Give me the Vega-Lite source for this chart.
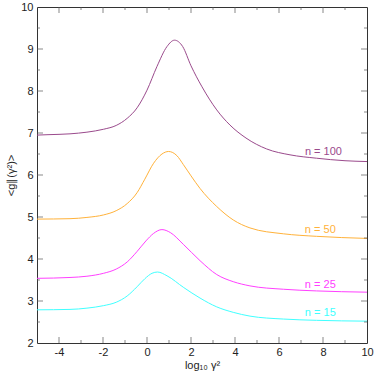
{
  "$schema": "https://vega.github.io/schema/vega-lite/v6.json",
  "width": 330,
  "height": 336,
  "autosize": "none",
  "padding": {"left": 37, "top": 7, "right": 7, "bottom": 31},
  "background": "white",
  "config": {
    "view": {"stroke": "#333333", "strokeWidth": 1},
    "font": "Liberation Sans",
    "axis": {
      "grid": false,
      "domain": false,
      "ticks": false,
      "labelColor": "#222",
      "labelFontSize": 11,
      "labelFont": "Liberation Sans",
      "titleFont": "Liberation Sans",
      "titleFontWeight": "normal",
      "titleFontSize": 11,
      "titleColor": "#222"
    }
  },
  "datasets": {
    "curves": [
      {"n": "n = 100", "x": -5, "y": 6.95}, {"n": "n = 100", "x": -4.5, "y": 6.96}, {"n": "n = 100", "x": -3.5, "y": 6.98}, {"n": "n = 100", "x": -2.73, "y": 7.02}, {"n": "n = 100", "x": -1.97, "y": 7.09}, {"n": "n = 100", "x": -1.4, "y": 7.18}, {"n": "n = 100", "x": -0.9, "y": 7.35}, {"n": "n = 100", "x": -0.45, "y": 7.6}, {"n": "n = 100", "x": 0, "y": 8.02}, {"n": "n = 100", "x": 0.45, "y": 8.58}, {"n": "n = 100", "x": 0.91, "y": 9.06}, {"n": "n = 100", "x": 1.25, "y": 9.21}, {"n": "n = 100", "x": 1.62, "y": 9.06}, {"n": "n = 100", "x": 2.0, "y": 8.6}, {"n": "n = 100", "x": 2.5, "y": 8.1}, {"n": "n = 100", "x": 3.17, "y": 7.55}, {"n": "n = 100", "x": 3.77, "y": 7.19}, {"n": "n = 100", "x": 4.5, "y": 6.88}, {"n": "n = 100", "x": 5.44, "y": 6.62}, {"n": "n = 100", "x": 6.5, "y": 6.48}, {"n": "n = 100", "x": 7.7, "y": 6.4}, {"n": "n = 100", "x": 9, "y": 6.34}, {"n": "n = 100", "x": 10, "y": 6.32},
      {"n": "n = 50", "x": -5, "y": 4.95}, {"n": "n = 50", "x": -3.5, "y": 4.96}, {"n": "n = 50", "x": -2.73, "y": 4.99}, {"n": "n = 50", "x": -1.97, "y": 5.05}, {"n": "n = 50", "x": -1.4, "y": 5.15}, {"n": "n = 50", "x": -0.9, "y": 5.32}, {"n": "n = 50", "x": -0.45, "y": 5.58}, {"n": "n = 50", "x": -0.1, "y": 5.9}, {"n": "n = 50", "x": 0.3, "y": 6.28}, {"n": "n = 50", "x": 0.68, "y": 6.5}, {"n": "n = 50", "x": 0.98, "y": 6.56}, {"n": "n = 50", "x": 1.36, "y": 6.46}, {"n": "n = 50", "x": 1.65, "y": 6.25}, {"n": "n = 50", "x": 2.0, "y": 5.98}, {"n": "n = 50", "x": 2.41, "y": 5.68}, {"n": "n = 50", "x": 3.17, "y": 5.25}, {"n": "n = 50", "x": 3.92, "y": 4.93}, {"n": "n = 50", "x": 4.68, "y": 4.74}, {"n": "n = 50", "x": 6.2, "y": 4.6}, {"n": "n = 50", "x": 7.7, "y": 4.54}, {"n": "n = 50", "x": 10, "y": 4.49},
      {"n": "n = 25", "x": -5, "y": 3.54}, {"n": "n = 25", "x": -3.5, "y": 3.56}, {"n": "n = 25", "x": -2.73, "y": 3.59}, {"n": "n = 25", "x": -1.97, "y": 3.66}, {"n": "n = 25", "x": -1.4, "y": 3.76}, {"n": "n = 25", "x": -0.9, "y": 3.93}, {"n": "n = 25", "x": -0.45, "y": 4.18}, {"n": "n = 25", "x": -0.05, "y": 4.43}, {"n": "n = 25", "x": 0.3, "y": 4.61}, {"n": "n = 25", "x": 0.68, "y": 4.7}, {"n": "n = 25", "x": 1.06, "y": 4.63}, {"n": "n = 25", "x": 1.65, "y": 4.35}, {"n": "n = 25", "x": 2.41, "y": 3.96}, {"n": "n = 25", "x": 3.17, "y": 3.63}, {"n": "n = 25", "x": 3.92, "y": 3.46}, {"n": "n = 25", "x": 4.68, "y": 3.36}, {"n": "n = 25", "x": 6.2, "y": 3.28}, {"n": "n = 25", "x": 7.7, "y": 3.24}, {"n": "n = 25", "x": 10, "y": 3.21},
      {"n": "n = 15", "x": -5, "y": 2.79}, {"n": "n = 15", "x": -3.5, "y": 2.8}, {"n": "n = 15", "x": -2.73, "y": 2.83}, {"n": "n = 15", "x": -1.97, "y": 2.89}, {"n": "n = 15", "x": -1.4, "y": 2.97}, {"n": "n = 15", "x": -0.9, "y": 3.12}, {"n": "n = 15", "x": -0.45, "y": 3.34}, {"n": "n = 15", "x": -0.1, "y": 3.53}, {"n": "n = 15", "x": 0.23, "y": 3.66}, {"n": "n = 15", "x": 0.48, "y": 3.69}, {"n": "n = 15", "x": 0.91, "y": 3.6}, {"n": "n = 15", "x": 1.67, "y": 3.32}, {"n": "n = 15", "x": 2.41, "y": 3.07}, {"n": "n = 15", "x": 3.17, "y": 2.86}, {"n": "n = 15", "x": 3.92, "y": 2.73}, {"n": "n = 15", "x": 4.68, "y": 2.64}, {"n": "n = 15", "x": 6.2, "y": 2.57}, {"n": "n = 15", "x": 7.7, "y": 2.54}, {"n": "n = 15", "x": 10, "y": 2.52}
    ],
    "labels": [
      {"n": "n = 100", "x": 8.86, "y": 6.55},
      {"n": "n = 50", "x": 8.58, "y": 4.69},
      {"n": "n = 25", "x": 8.58, "y": 3.38},
      {"n": "n = 15", "x": 8.58, "y": 2.72}
    ],
    "xticks": [
      {"v": -4, "kind": "major"}, {"v": -3, "kind": "minor"}, {"v": -2, "kind": "major"}, {"v": -1, "kind": "minor"},
      {"v": 0, "kind": "major"}, {"v": 1, "kind": "minor"}, {"v": 2, "kind": "major"}, {"v": 3, "kind": "minor"},
      {"v": 4, "kind": "major"}, {"v": 5, "kind": "minor"}, {"v": 6, "kind": "major"}, {"v": 7, "kind": "minor"},
      {"v": 8, "kind": "major"}, {"v": 9, "kind": "minor"}
    ],
    "yticks": [
      {"v": 2.5, "kind": "minor"}, {"v": 3, "kind": "major"}, {"v": 3.5, "kind": "minor"}, {"v": 4, "kind": "major"},
      {"v": 4.5, "kind": "minor"}, {"v": 5, "kind": "major"}, {"v": 5.5, "kind": "minor"}, {"v": 6, "kind": "major"},
      {"v": 6.5, "kind": "minor"}, {"v": 7, "kind": "major"}, {"v": 7.5, "kind": "minor"}, {"v": 8, "kind": "major"},
      {"v": 8.5, "kind": "minor"}, {"v": 9, "kind": "major"}, {"v": 9.5, "kind": "minor"}
    ]
  },
  "resolve": {"axis": {"x": "independent", "y": "independent"}},
  "layer": [
    {
      "data": {"name": "curves"},
      "mark": {"type": "line", "interpolate": "monotone", "strokeWidth": 1, "clip": true},
      "encoding": {
        "x": {"field": "x", "type": "quantitative",
          "scale": {"domain": [-5, 10], "nice": false, "zero": false},
          "axis": {"orient": "bottom", "title": "log₁₀ γ²", "values": [-4,-2,0,2,4,6,8,10],
            "labelExpr": "toString(datum.value)",
            "labelPadding": 3, "titlePadding": 2, "labelFlush": false, "labelOverlap": false}},
        "y": {"field": "y", "type": "quantitative",
          "scale": {"domain": [2, 10], "nice": false, "zero": false},
          "axis": {"orient": "left", "title": "<g∥(γ²)>", "values": [2,3,4,5,6,7,8,9,10],
            "labelExpr": "toString(datum.value)",
            "labelPadding": 4, "titlePadding": 4, "labelFlush": false, "labelOverlap": false}},
        "color": {"field": "n", "type": "nominal", "legend": null,
          "scale": {"domain": ["n = 100", "n = 50", "n = 25", "n = 15"], "range": ["#9a4a8c", "#ffb23a", "#ff40ff", "#40ffff"]}},
        "detail": {"field": "n"}
      }
    },
    {
      "data": {"name": "labels"},
      "mark": {"type": "text", "align": "right", "baseline": "middle", "fontSize": 11, "font": "Liberation Sans"},
      "encoding": {
        "x": {"field": "x", "type": "quantitative", "axis": null},
        "y": {"field": "y", "type": "quantitative", "axis": null},
        "text": {"field": "n"},
        "color": {"field": "n", "type": "nominal", "legend": null}
      }
    },
    {
      "data": {"name": "xticks"},
      "mark": {"type": "tick", "orient": "vertical", "thickness": 1, "color": "#555555", "clip": true},
      "encoding": {
        "x": {"field": "v", "type": "quantitative", "axis": null},
        "y": {"datum": 2, "type": "quantitative", "axis": null},
        "size": {"field": "kind", "type": "nominal", "legend": null, "scale": {"domain": ["major", "minor"], "range": [12, 6]}}
      }
    },
    {
      "data": {"name": "xticks"},
      "mark": {"type": "tick", "orient": "vertical", "thickness": 1, "color": "#555555", "clip": true},
      "encoding": {
        "x": {"field": "v", "type": "quantitative", "axis": null},
        "y": {"datum": 10, "type": "quantitative", "axis": null},
        "size": {"field": "kind", "type": "nominal", "legend": null}
      }
    },
    {
      "data": {"name": "yticks"},
      "mark": {"type": "tick", "orient": "horizontal", "thickness": 1, "color": "#555555", "clip": true},
      "encoding": {
        "y": {"field": "v", "type": "quantitative", "axis": null},
        "x": {"datum": -5, "type": "quantitative", "axis": null},
        "size": {"field": "kind", "type": "nominal", "legend": null}
      }
    },
    {
      "data": {"name": "yticks"},
      "mark": {"type": "tick", "orient": "horizontal", "thickness": 1, "color": "#555555", "clip": true},
      "encoding": {
        "y": {"field": "v", "type": "quantitative", "axis": null},
        "x": {"datum": 10, "type": "quantitative", "axis": null},
        "size": {"field": "kind", "type": "nominal", "legend": null}
      }
    }
  ]
}
